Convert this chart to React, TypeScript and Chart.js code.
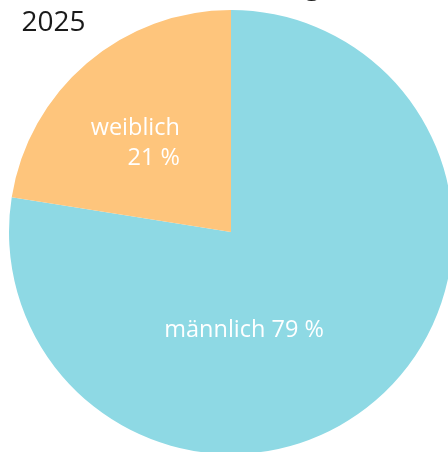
import React, { useEffect, useRef } from "react";
import { Chart, registerables } from "chart.js";

Chart.register(...registerables);

const categories = ["männlich", "weiblich"];
const sliceValues = [77.5, 22.5];
const valueLabels = ["79 %", "21 %"];
const sliceColors = ["#8ED9E4", "#FEC57C"];
const yearLabel = "2025";
const headingText = "Geschlechterverteilung";

const FONT = '"Open Sans", "Noto Sans", sans-serif';

const labelPlugin = {
  id: "sliceLabels",
  afterDatasetsDraw(chart: any) {
    const ctx = chart.ctx;
    const meta = chart.getDatasetMeta(0);
    const arc0 = meta.data[0];
    if (!arc0) return;
    const cx = arc0.x;
    const cy = arc0.y;
    const r = arc0.outerRadius;
    ctx.save();
    ctx.fillStyle = "#ffffff";
    ctx.font = `23.5px ${FONT}`;
    ctx.textBaseline = "alphabetic";
    // männlich
    ctx.textAlign = "center";
    ctx.fillText(`${categories[0]} ${valueLabels[0]}`, cx + r * 0.059, cy + r * 0.473);
    // weiblich
    ctx.textAlign = "right";
    ctx.fillText(categories[1], cx - r * 0.23, cy - r * 0.437);
    ctx.fillText(valueLabels[1], cx - r * 0.23, cy - r * 0.302);
    ctx.restore();

    // titles
    ctx.save();
    ctx.fillStyle = "#1a1a1a";
    ctx.font = `28px ${FONT}`;
    ctx.textAlign = "left";
    ctx.textBaseline = "alphabetic";
    ctx.fillText(yearLabel, 21.5, 30.5);
    ctx.textAlign = "right";
    ctx.fillText(headingText, 320, -6.5);
    ctx.restore();
  },
};

export default function App() {
  const ref = useRef<HTMLCanvasElement | null>(null);
  useEffect(() => {
    document.body.style.margin = "0";
    document.body.style.overflow = "hidden";
    const canvas = ref.current!;
    const chart = new Chart(canvas, {
      type: "pie",
      data: {
        labels: categories,
        datasets: [
          {
            data: sliceValues,
            backgroundColor: sliceColors,
            borderWidth: 0,
          },
        ],
      },
      options: {
        responsive: false,
        animation: false,
        devicePixelRatio: 1,
        layout: { padding: { left: 9, top: 10, right: 17, bottom: 16 } },
        plugins: {
          legend: { display: false },
          tooltip: { enabled: false },
          title: { display: false },
        },
      },
      plugins: [labelPlugin],
    });
    return () => chart.destroy();
  }, []);
  return (
    <div
      style={{
        position: "fixed",
        left: 0,
        top: 0,
        width: 448,
        height: 452,
        overflow: "hidden",
        background: "#ffffff",
      }}
    >
      <canvas ref={ref} width={470} height={470} style={{ position: "absolute", left: 0, top: 0 }} />
    </div>
  );
}
